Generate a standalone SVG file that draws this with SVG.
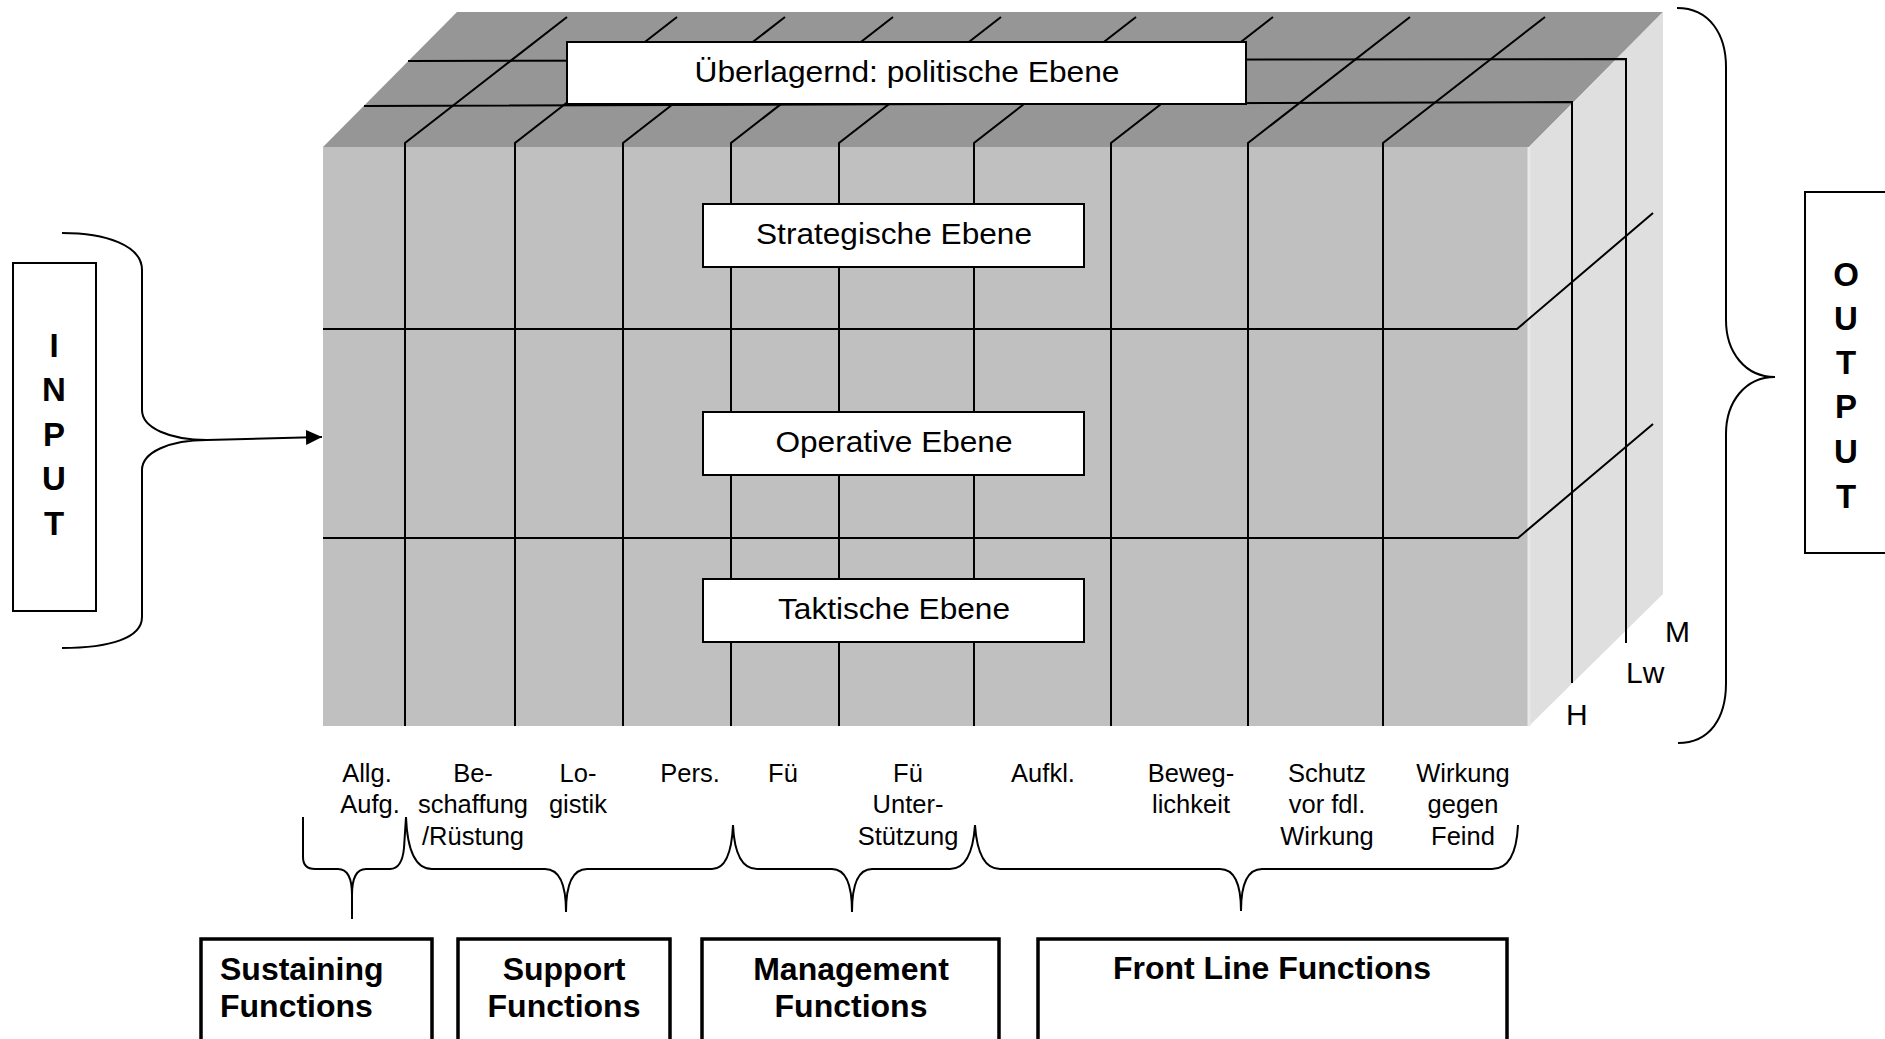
<svg xmlns="http://www.w3.org/2000/svg" width="1885" height="1039" viewBox="0 0 1885 1039">
<defs>
<style>
.t{font-family:"Liberation Sans",Arial,sans-serif;fill:#000}
.lbl{font-size:25.5px;text-anchor:middle}
.eb{font-size:30px;text-anchor:middle}
.big{font-size:33px;font-weight:bold;text-anchor:middle}
.fn{font-size:32px;font-weight:bold}
.grid{fill:none;stroke:#000;stroke-width:2}
.br{fill:none;stroke:#000;stroke-width:2}
.box{fill:#fff;stroke:#000;stroke-width:2}
.fbox{fill:#fff;stroke:#000;stroke-width:3.5}
</style>
<marker id="ah" markerWidth="16" markerHeight="15" refX="16" refY="7.5" orient="auto" markerUnits="userSpaceOnUse">
<path d="M0,0 L16,7.5 L0,15 Z" fill="#000"/>
</marker>
</defs>
<rect width="1885" height="1039" fill="#fff"/>

<g id="cube">
<polygon points="323,147 457,12 1663,12 1529,147" fill="#969696"/>
<polygon points="1529,147 1663,12 1663,594 1529,726" fill="#dfdfdf"/>
<rect x="323" y="147" width="1206" height="579" fill="#c0c0c0"/>
<line x1="1529" y1="147" x2="1529" y2="726" stroke="#e8e8e8" stroke-width="3"/>
<g class="grid">
<path d="M405 726 L405 143 L567 17"/>
<path d="M515 726 L515 143 L677 17"/>
<path d="M623 726 L623 143 L785 17"/>
<path d="M731 726 L731 143 L893 17"/>
<path d="M839 726 L839 143 L1001 17"/>
<path d="M974 726 L974 143 L1136 17"/>
<path d="M1111 726 L1111 143 L1273 17"/>
<path d="M1248 726 L1248 143 L1410 17"/>
<path d="M1383 726 L1383 143 L1545 17"/>
<path d="M408 61 L1626 59 L1626 643"/>
<path d="M364 106 L1572 102 L1572 683"/>
<path d="M323 329 L1517 329 L1653 213"/>
<path d="M323 538 L1518 538 L1653 424"/>
</g>
</g>

<g id="node-politisch">
<rect class="box" x="567" y="42" width="679" height="62"/>
<text class="t eb" x="907" y="82" textLength="425" lengthAdjust="spacingAndGlyphs">Überlagernd: politische Ebene</text>
</g>
<g id="node-strategisch">
<rect class="box" x="703" y="204" width="381" height="63"/>
<text class="t eb" x="894" y="244" textLength="276" lengthAdjust="spacingAndGlyphs">Strategische Ebene</text>
</g>
<g id="node-operativ">
<rect class="box" x="703" y="412" width="381" height="63"/>
<text class="t eb" x="894" y="452" textLength="237" lengthAdjust="spacingAndGlyphs">Operative Ebene</text>
</g>
<g id="node-taktisch">
<rect class="box" x="703" y="579" width="381" height="63"/>
<text class="t eb" x="894" y="619" textLength="232" lengthAdjust="spacingAndGlyphs">Taktische Ebene</text>
</g>

<g id="depth-labels">
<text class="t" x="1665" y="642" font-size="30">M</text>
<text class="t" x="1626" y="683" font-size="30">Lw</text>
<text class="t" x="1566" y="725" font-size="30">H</text>
</g>

<g id="node-input">
<rect class="box" x="13" y="263" width="83" height="348"/>
<text class="t big" x="54" y="357">I</text>
<text class="t big" x="54" y="401">N</text>
<text class="t big" x="54" y="446">P</text>
<text class="t big" x="54" y="490">U</text>
<text class="t big" x="54" y="535">T</text>
</g>

<g id="node-output">
<rect class="box" x="1805" y="192" width="100" height="361"/>
<text class="t big" x="1846" y="286">O</text>
<text class="t big" x="1846" y="330">U</text>
<text class="t big" x="1846" y="374">T</text>
<text class="t big" x="1846" y="418">P</text>
<text class="t big" x="1846" y="463">U</text>
<text class="t big" x="1846" y="508">T</text>
</g>

<g id="column-labels" class="t lbl">
<text x="367" y="782">Allg.</text>
<text x="370" y="813">Aufg.</text>
<text x="473" y="782">Be-</text>
<text x="473" y="813">schaffung</text>
<text x="473" y="845">/Rüstung</text>
<text x="578" y="782">Lo-</text>
<text x="578" y="813">gistik</text>
<text x="690" y="782">Pers.</text>
<text x="783" y="782">Fü</text>
<text x="908" y="782">Fü</text>
<text x="908" y="813">Unter-</text>
<text x="908" y="845">Stützung</text>
<text x="1043" y="782">Aufkl.</text>
<text x="1191" y="782">Beweg-</text>
<text x="1191" y="813">lichkeit</text>
<text x="1327" y="782">Schutz</text>
<text x="1327" y="813">vor fdl.</text>
<text x="1327" y="845">Wirkung</text>
<text x="1463" y="782">Wirkung</text>
<text x="1463" y="813">gegen</text>
<text x="1463" y="845">Feind</text>
</g>

<g id="node-sustaining">
<rect class="fbox" x="201" y="939" width="231" height="150"/>
<text class="t fn" x="220" y="980">Sustaining</text>
<text class="t fn" x="220" y="1017">Functions</text>
</g>
<g id="node-support">
<rect class="fbox" x="458" y="939" width="212" height="150"/>
<text class="t fn" x="564" y="980" text-anchor="middle">Support</text>
<text class="t fn" x="564" y="1017" text-anchor="middle">Functions</text>
</g>
<g id="node-management">
<rect class="fbox" x="702" y="939" width="297" height="150"/>
<text class="t fn" x="851" y="980" text-anchor="middle">Management</text>
<text class="t fn" x="851" y="1017" text-anchor="middle">Functions</text>
</g>
<g id="node-frontline">
<rect class="fbox" x="1038" y="939" width="469" height="150"/>
<text class="t fn" x="1272" y="979" text-anchor="middle">Front Line Functions</text>
</g>

<g id="connectors">
<path class="br" d="M62 233 C105 233 142 245 142 270 L142 410 C142 428 170 440 207 440 C170 440 142 452 142 470 L142 617 C142 638 110 648 62 648"/>
<path class="br" d="M207 440 L322 437" marker-end="url(#ah)"/>
<path class="br" d="M1677 8 C1710 8 1726 35 1726 67 L1726 320 C1726 352 1745 377 1775 377 C1745 377 1726 402 1726 434 L1726 683 C1726 718 1710 743 1678 743"/>
<path class="br" d="M303 817 L303 857 Q303 869 315 869 L338 869 Q352 869 352 895 L352 919 M352 895 Q352 869 366 869 L390 869 Q402 869 404 848 L406 817"/>
<path class="br" d="M406 817 Q408 869 432 869 L545 869 Q566 869 566 912 Q566 869 587 869 L712 869 Q731 869 733 825"/>
<path class="br" d="M733 825 Q735 869 757 869 L832 869 Q852 869 852 912 Q852 869 872 869 L950 869 Q972 869 975 825"/>
<path class="br" d="M975 825 Q978 869 1000 869 L1220 869 Q1241 869 1241 911 Q1241 869 1262 869 L1492 869 Q1516 869 1518 825"/>
</g>
</svg>
